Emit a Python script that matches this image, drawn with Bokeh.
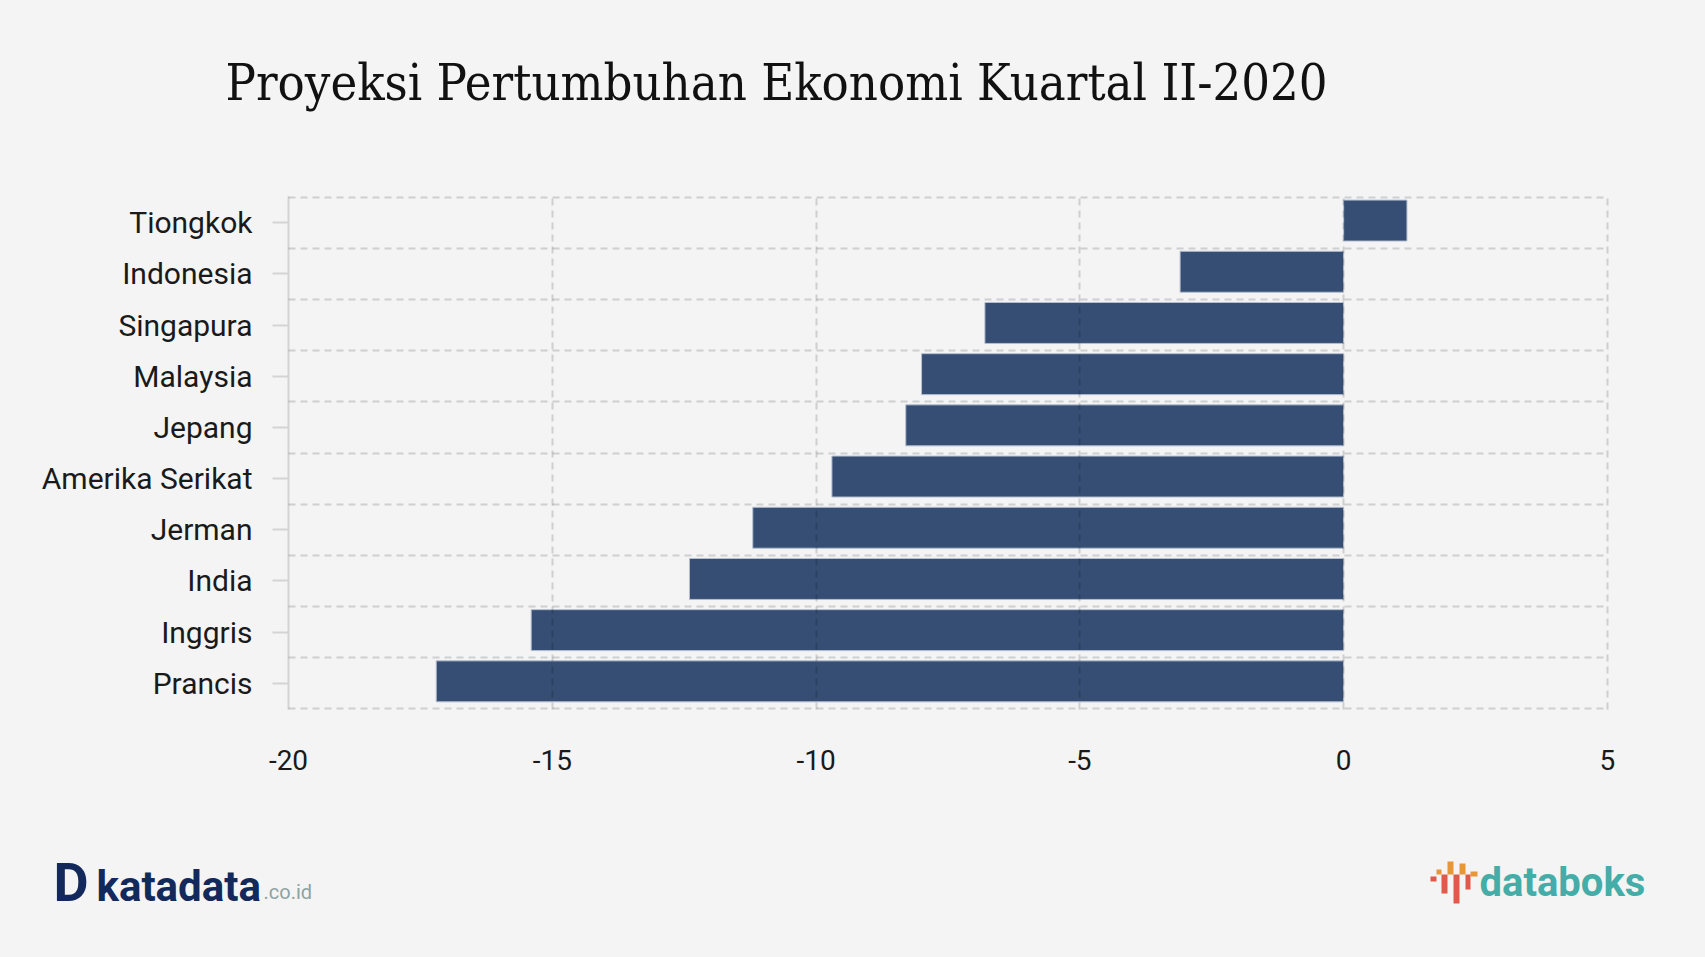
from bokeh.plotting import figure
from bokeh.layouts import column, row
from bokeh.models import Range1d, FixedTicker, ColumnDataSource
from bokeh.core.properties import value
from bokeh.embed import file_html
from bokeh.resources import INLINE

countries = ["Prancis", "Inggris", "India", "Jerman", "Amerika Serikat",
             "Jepang", "Malaysia", "Singapura", "Indonesia", "Tiongkok"]
growth = [-17.2, -15.4, -12.4, -11.2, -9.7, -8.3, -8.0, -6.8, -3.1, 1.2]
x_ticks = [-20, -15, -10, -5, 0, 5]
x_tick_labels = ["-20", "-15", "-10", "-5", "0", "5"]
title_text = "Proyeksi Pertumbuhan Ekonomi Kuartal II-2020"

BG = "#f4f4f4"
W = 1705
H_HEAD, H_MAIN, H_FOOT = 150, 640, 167
ML, FR = 288, 1608            # frame left / right (page px)
FT, FB = 196, 709             # frame top / bottom (page px)
BASE_SHIFT = 0.36             # svg text baseline correction (em)
BAR_HEIGHT, BAR_NUDGE = 0.8, 0.04

X0, X1 = -20, 5
Y0, Y1 = 0, len(countries)

bg_style = {"background-color": BG}


def blank(height, y_top):
    f = figure(width=W, height=height, x_range=Range1d(0, W),
               y_range=Range1d(y_top + height, y_top),
               x_axis_type=None, y_axis_type=None,
               output_backend="svg", toolbar_location=None, min_border=0)
    f.background_fill_color = BG
    f.border_fill_color = BG
    f.outline_line_color = None
    f.grid.visible = False
    return f


def put_text(f, x, y, txt, font, size, color, bold=False):
    f.text(x=[x], y=[y - BASE_SHIFT * size], text=[txt], text_font=value(font),
           text_font_style="bold" if bold else "normal",
           text_font_size=f"{size}px", text_color=color,
           text_baseline="alphabetic", text_align="left")


# ---------- header (title) ----------
head = blank(H_HEAD, 0)
put_text(head, 225, 100, title_text, "DejaVu Serif Condensed", 50.3, "#111111")

# ---------- main chart ----------
ypos = [i + 0.5 for i in range(len(countries))]
src = ColumnDataSource(dict(y=[v + BAR_NUDGE for v in ypos], right=growth, name=countries))

p = figure(width=W, height=H_MAIN, x_range=Range1d(X0, X1 + 0.02), y_range=Range1d(Y0 - 0.01, Y1 + 0.01),
           output_backend="svg", toolbar_location=None,
           min_border_left=ML, min_border_right=W - FR,
           min_border_top=FT - H_HEAD, min_border_bottom=H_HEAD + H_MAIN - FB)
p.background_fill_color = BG
p.border_fill_color = BG
p.outline_line_color = None

p.hbar(y="y", left=0, right="right", height=BAR_HEIGHT, source=src,
       fill_color="#364e74", line_color="#b4bfd0", line_width=1)

p.xgrid.ticker = FixedTicker(ticks=x_ticks[1:])
p.ygrid.ticker = FixedTicker(ticks=list(range(len(countries) + 1)))
for g in (p.xgrid, p.ygrid):
    g.grid_line_color = "black"
    g.grid_line_alpha = 0.15
    g.grid_line_dash = "7 5"
    g.grid_line_width = 2
    g.level = "overlay"

xa = p.xaxis[0]
xa.ticker = FixedTicker(ticks=x_ticks)
xa.major_label_overrides = {x_ticks[i]: x_tick_labels[i] for i in range(len(x_ticks))}
xa.axis_line_color = None
xa.major_tick_line_color = None
xa.minor_tick_line_color = None
xa.major_tick_out = 0
xa.major_tick_in = 0
xa.major_label_standoff = 40
xa.major_label_text_font = "Roboto"
xa.major_label_text_font_size = "28px"
xa.major_label_text_color = "#1a1a1a"

ya = p.yaxis[0]
ya.ticker = FixedTicker(ticks=ypos)
ya.major_label_overrides = {ypos[i]: countries[i] for i in range(len(countries))}
ya.axis_line_color = "#d4d4d4"
ya.axis_line_width = 2
ya.major_tick_line_color = "#d4d4d4"
ya.major_tick_line_width = 2
ya.major_tick_out = 16
ya.major_tick_in = 0
ya.minor_tick_line_color = None
ya.major_label_standoff = 20
ya.major_label_text_font = "Roboto"
ya.major_label_text_font_size = "30px"
ya.major_label_text_color = "#1a1a1a"

# ---------- footer (logos) ----------
foot = blank(H_FOOT, H_HEAD + H_MAIN)
navy = "#13295c"
put_text(foot, 53, 901, "D", "Roboto", 54, navy, bold=True)
put_text(foot, 96, 901, "katadata", "Roboto", 42, navy, bold=True)
put_text(foot, 263, 899, ".co.id", "Roboto", 20, "#8ea3a3")
put_text(foot, 1479, 896, "databoks", "Roboto", 40, "#45ada8", bold=True)
icon_l = [1430, 1436, 1441, 1447, 1453, 1459, 1465, 1470]
icon_r = [1436, 1441, 1447, 1453, 1459, 1465, 1470, 1477]
icon_t = [876, 869, 874, 861, 874, 863, 874, 871]
icon_b = [881, 874, 893, 874, 903, 874, 889, 876]
icon_c = ["#e05a4c", "#e8963a"] * 4
foot.quad(left=icon_l, right=icon_r, top=icon_t, bottom=icon_b, fill_color=icon_c, line_color=None)

layout = column(row(head, styles=bg_style), row(p, styles=bg_style), row(foot, styles=bg_style),
                spacing=0, styles=bg_style)
open("out.html", "w").write(file_html(layout, INLINE))
